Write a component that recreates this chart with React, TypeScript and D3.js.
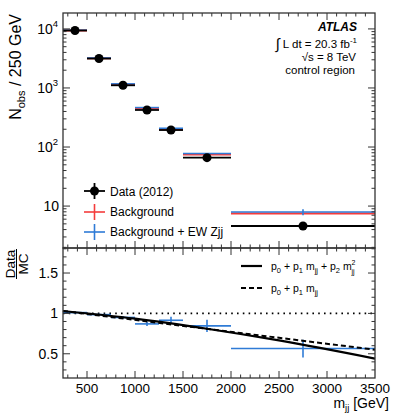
import React from 'react';
import * as d3 from 'd3';

// bin edges in m_jj [GeV]
const binEdges = [250, 500, 750, 1000, 1250, 1500, 2000, 3500];
// N_obs / 250 GeV
const dataVals = [9400, 3150, 1110, 424, 194, 66, 4.6];
const bkgVals = [9400, 3180, 1150, 453, 200, 75, 7.5];
const bkgEwVals = [9500, 3220, 1175, 466, 208, 77.5, 7.9];
const bkgEwErr = [0, 0, 0, 0, 0, 0, 0.9];
// Data / MC (background + EW Zjj)
const ratioVals = [1.01, 0.985, 0.95, 0.87, 0.915, 0.845, 0.565];
const ratioErr = [0.01, 0.012, 0.015, 0.025, 0.045, 0.075, 0.11];
// fit curves
const quadFit: [number, number][] = [[250, 1.03], [1000, 0.935], [1750, 0.81], [2500, 0.665], [3500, 0.44]];
const linFit: [number, number][] = [[250, 1.03], [3500, 0.55]];

const xTicks = [500, 1000, 1500, 2000, 2500, 3000, 3500];
const ratioTicks = [0.5, 1, 1.5];

const FONT = "'Liberation Sans', Arial, Helvetica, sans-serif";
const L = 63, R = 375, T1 = 13, B1 = 248, B2 = 378;
const RED = '#f43c3c';
const BLUE = '#2f7bd6';
const AX = '#333';

export default function App() {
  const x = d3.scaleLinear().domain([250, 3500]).range([L, R]);
  const yTop = d3.scaleLog().domain([1.95, 18600]).range([B1, T1]);
  const yRat = d3.scaleLinear().domain([0.2, 1.81]).range([B2, B1]);

  const bins = dataVals.map((d, i) => ({
    x0: binEdges[i], x1: binEdges[i + 1], xc: (binEdges[i] + binEdges[i + 1]) / 2,
    data: d, bkg: bkgVals[i], ew: bkgEwVals[i], ewErr: bkgEwErr[i],
    ratio: ratioVals[i], rErr: ratioErr[i],
  }));

  const xMinor = d3.range(300, 3500, 100);
  const isMajorX = (v: number) => v % 500 === 0;
  const logTicks = yTop.ticks();
  const isMajorLog = (v: number) => Math.abs(Math.log10(v) - Math.round(Math.log10(v))) < 1e-6;
  const ratMinor = d3.range(0.3, 1.81, 0.1).map(v => Math.round(v * 10) / 10);
  const isMajorR = (v: number) => Math.abs(v * 2 - Math.round(v * 2)) < 1e-6;

  const lineGen = d3.line<[number, number]>().x(d => x(d[0])).y(d => yRat(d[1])).curve(d3.curveMonotoneX);

  const ticks: JSX.Element[] = [];
  // x ticks on both panels, top and bottom edges
  xMinor.forEach((v, i) => {
    const len = isMajorX(v) ? 7 : 3.5;
    const px = x(v);
    ticks.push(<line key={'xt1' + i} x1={px} x2={px} y1={T1} y2={T1 + len} />);
    ticks.push(<line key={'xb1' + i} x1={px} x2={px} y1={B1} y2={B1 - len} />);
    ticks.push(<line key={'xt2' + i} x1={px} x2={px} y1={B1} y2={B1 + len} />);
    ticks.push(<line key={'xb2' + i} x1={px} x2={px} y1={B2} y2={B2 - len} />);
  });
  logTicks.forEach((v, i) => {
    const len = isMajorLog(v) ? 7 : 3.5;
    const py = yTop(v);
    ticks.push(<line key={'yl' + i} x1={L} x2={L + len} y1={py} y2={py} />);
    ticks.push(<line key={'yr' + i} x1={R} x2={R - len} y1={py} y2={py} />);
  });
  ratMinor.forEach((v, i) => {
    const len = isMajorR(v) ? 7 : 3.5;
    const py = yRat(v);
    ticks.push(<line key={'rl' + i} x1={L} x2={L + len} y1={py} y2={py} />);
    ticks.push(<line key={'rr' + i} x1={R} x2={R - len} y1={py} y2={py} />);
  });

  return (
    <svg width={395} height={415} style={{ position: 'absolute', left: 0, top: 0 }} fontFamily={FONT}>
      <rect width={395} height={415} fill="#fff" />

      {/* top panel: background predictions */}
      <g>
        {bins.map((b, i) => (
          <g key={'bk' + i}>
            <line x1={x(b.x0)} x2={x(b.x1)} y1={yTop(b.bkg)} y2={yTop(b.bkg)} stroke={RED} strokeWidth={2} />
            <line x1={x(b.x0)} x2={x(b.x1)} y1={yTop(b.ew)} y2={yTop(b.ew)} stroke={BLUE} strokeWidth={1.5} />
            {b.ewErr > 0 && (
              <line x1={x(b.xc)} x2={x(b.xc)} y1={yTop(b.ew + b.ewErr)} y2={yTop(b.ew - b.ewErr)} stroke={BLUE} strokeWidth={1.6} />
            )}
          </g>
        ))}
        {bins.map((b, i) => (
          <g key={'dt' + i}>
            <line x1={x(b.x0)} x2={x(b.x1)} y1={yTop(b.data)} y2={yTop(b.data)} stroke="#000" strokeWidth={1.8} />
            <circle cx={x(b.xc)} cy={yTop(b.data)} r={4.5} fill="#000" />
          </g>
        ))}
      </g>

      {/* ratio panel */}
      <g>
        <line x1={L} x2={R} y1={yRat(1)} y2={yRat(1)} stroke="#000" strokeWidth={1.6} strokeDasharray="1.6,4.2" />
        {bins.map((b, i) => (
          <g key={'rt' + i} stroke={BLUE} strokeWidth={1.6}>
            <line x1={x(b.x0)} x2={x(b.x1)} y1={yRat(b.ratio)} y2={yRat(b.ratio)} />
            <line x1={x(b.xc)} x2={x(b.xc)} y1={yRat(b.ratio + b.rErr)} y2={yRat(b.ratio - b.rErr)} />
          </g>
        ))}
        <path d={lineGen(linFit) || ''} fill="none" stroke="#000" strokeWidth={2} strokeDasharray="5,3" />
        <path d={lineGen(quadFit) || ''} fill="none" stroke="#000" strokeWidth={2.2} />
      </g>

      {/* frames and ticks */}
      <g stroke={AX} strokeWidth={1}>{ticks}</g>
      <rect x={L} y={T1} width={R - L} height={B1 - T1} fill="none" stroke={AX} strokeWidth={1.3} />
      <rect x={L} y={B1} width={R - L} height={B2 - B1} fill="none" stroke={AX} strokeWidth={1.3} />

      {/* y tick labels, top panel */}
      {logTicks.filter(isMajorLog).map((v, i) => {
        const e = Math.round(Math.log10(v));
        return e === 1 ? (
          <text key={'ll' + i} x={59} y={yTop(v) + 5} textAnchor="end" fontSize={14}>10</text>
        ) : (
          <text key={'ll' + i} x={58} y={yTop(v) + 5} textAnchor="end" fontSize={14}>
            10<tspan fontSize={9.5} dy={-7}>{e}</tspan>
          </text>
        );
      })}
      {/* y tick labels, ratio panel */}
      {ratioTicks.map((v, i) => (
        <text key={'rl' + i} x={58} y={yRat(v) + 5} textAnchor="end" fontSize={14}>{v}</text>
      ))}
      {/* x tick labels */}
      {xTicks.map((v, i) => (
        <text key={'xl' + i} x={x(v)} y={393} textAnchor="middle" fontSize={13.5}>{v}</text>
      ))}

      {/* axis titles */}
      <text transform="translate(20.5,14) rotate(-90)" textAnchor="end" fontSize={16}>
        N<tspan fontSize={11} dy={4}>obs</tspan><tspan dy={-4}> / 250 GeV</tspan>
      </text>
      <g transform="translate(16.5,264) rotate(-90)">
        <text x={0} y={-2} textAnchor="middle" fontSize={13.5}>Data</text>
        <line x1={-15} x2={15} y1={0} y2={0} stroke="#000" strokeWidth={1} />
        <text x={0} y={11.5} textAnchor="middle" fontSize={13.5}>MC</text>
      </g>
      <text x={389} y={408} textAnchor="end" fontSize={14}>
        m<tspan fontSize={9.5} dy={3}>jj</tspan><tspan dy={-3}> [GeV]</tspan>
      </text>

      {/* ATLAS label */}
      <g fontSize={11.5} textAnchor="end">
        <text x={357} y={31} fontWeight="bold" fontStyle="italic" fontSize={12}>ATLAS</text>
        <text x={357} y={48}>
          <tspan fontSize={15} dy={1}>∫</tspan><tspan dy={-1}> L dt = 20.3 fb</tspan><tspan fontSize={8} dy={-5}>-1</tspan>
        </text>
        <text x={356} y={61}>√s = 8 TeV</text>
        <text x={355} y={74}>control region</text>
      </g>

      {/* legend, top panel */}
      <g fontSize={12}>
        <line x1={84} x2={105} y1={191} y2={191} stroke="#000" strokeWidth={1.8} />
        <line x1={94.5} x2={94.5} y1={183} y2={199} stroke="#000" strokeWidth={1.8} />
        <circle cx={94.5} cy={191} r={4.5} fill="#000" />
        <text x={110} y={195.5}>Data (2012)</text>
        <line x1={84} x2={105} y1={212} y2={212} stroke={RED} strokeWidth={1.6} />
        <line x1={94.5} x2={94.5} y1={204} y2={220} stroke={RED} strokeWidth={1.6} />
        <text x={110} y={216}>Background</text>
        <line x1={84} x2={105} y1={232} y2={232} stroke={BLUE} strokeWidth={1.6} />
        <line x1={94.5} x2={94.5} y1={224} y2={240} stroke={BLUE} strokeWidth={1.6} />
        <text x={110} y={236}>Background + EW Zjj</text>
      </g>

      {/* legend, ratio panel */}
      <g fontSize={10.5}>
        <line x1={241} x2={262} y1={266} y2={266} stroke="#000" strokeWidth={2.2} />
        <text x={271} y={270}>
          p<tspan fontSize={7.5} dy={2.5}>0</tspan><tspan dy={-2.5}> + p</tspan><tspan fontSize={7.5} dy={2.5}>1</tspan>
          <tspan dy={-2.5}> m</tspan><tspan fontSize={7.5} dy={2.5}>jj</tspan><tspan dy={-2.5}> + p</tspan>
          <tspan fontSize={7.5} dy={2.5}>2</tspan><tspan dy={-2.5}> m</tspan>
        </text>
        <text x={351.5} y={264.5} fontSize={7}>2</text>
        <text x={351.5} y={274} fontSize={7}>jj</text>
        <line x1={241} x2={262} y1={288} y2={288} stroke="#000" strokeWidth={2} strokeDasharray="5,3" />
        <text x={271} y={292}>
          p<tspan fontSize={7.5} dy={2.5}>0</tspan><tspan dy={-2.5}> + p</tspan><tspan fontSize={7.5} dy={2.5}>1</tspan>
          <tspan dy={-2.5}> m</tspan><tspan fontSize={7.5} dy={2.5}>jj</tspan>
        </text>
      </g>
    </svg>
  );
}
